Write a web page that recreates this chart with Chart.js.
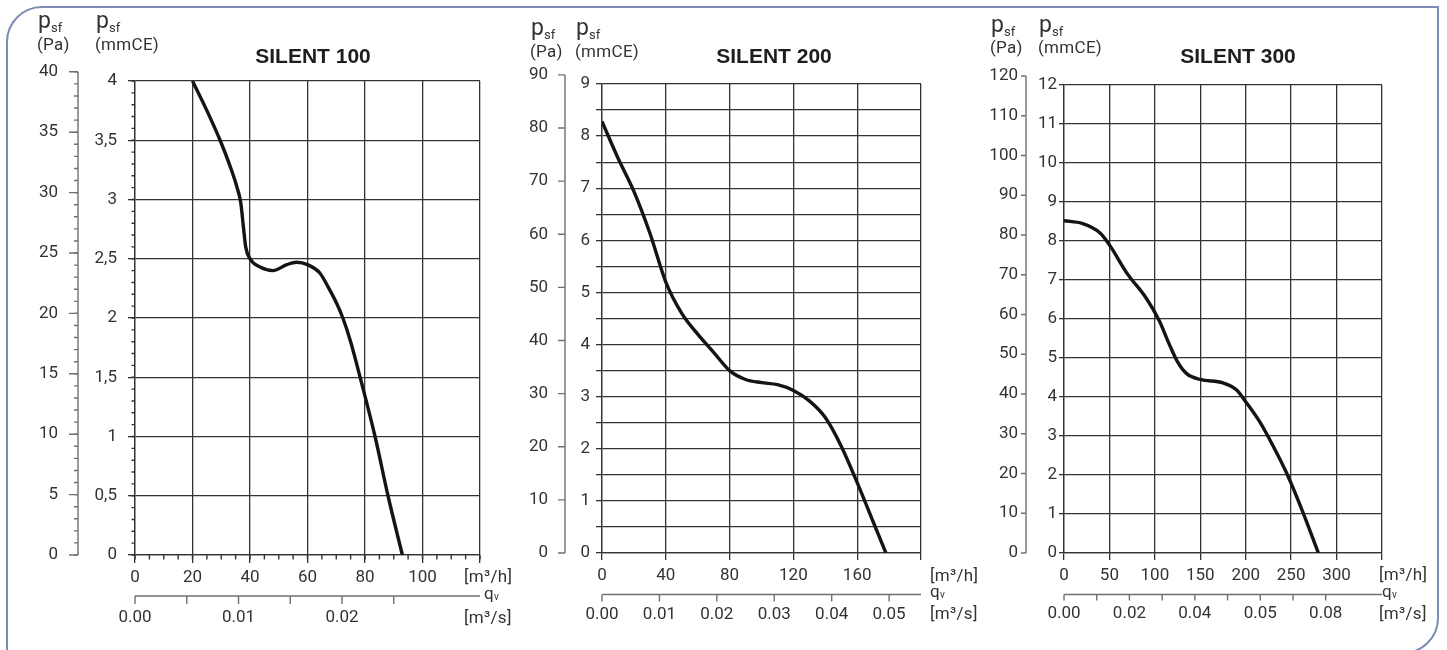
<!DOCTYPE html>
<html>
<head>
<meta charset="utf-8">
<title>SILENT 100 / 200 / 300</title>
<script src="https://cdn.jsdelivr.net/npm/chart.js@4.4.1/dist/chart.umd.min.js"></script>
<style>
  body { margin: 0; width: 1447px; height: 650px; overflow: hidden; background: #fff; position: relative; font-family: Roboto, sans-serif; color: #333; }
  .frame { position: absolute; left: 6px; top: 6px; width: 1433px; height: 648px; box-sizing: border-box; border: 2.5px solid #7d8cb4; border-radius: 36px 0 36px 0; }
  canvas { position: absolute; top: 0; }
  .txt { position: absolute; white-space: nowrap; font-size: 17px; line-height: 17px; letter-spacing: 0.3px; }
  .p { position: absolute; white-space: nowrap; font-size: 23px; line-height: 23px; }
  .p sub { font-size: 13px; vertical-align: -4px; }
  .q sub { font-size: 10px; vertical-align: -1px; }
  .title { position: absolute; width: 200px; text-align: center; font: bold 21px "Liberation Sans", Arial, sans-serif; line-height: 21px; color: #1e1e1e; }
</style>
</head>
<body>
<div class="frame"></div>

<canvas id="silent100" width="520" height="650" style="left:0px"></canvas>
<canvas id="silent200" width="465" height="650" style="left:520px"></canvas>
<canvas id="silent300" width="462" height="650" style="left:985px"></canvas>

<!-- SILENT 100 texts -->
<div class="p" style="left:38px; top:9px">p<sub>sf</sub></div>
<div class="txt" style="left:37px; top:36px">(Pa)</div>
<div class="p" style="left:96px; top:9px">p<sub>sf</sub></div>
<div class="txt" style="left:95px; top:36px">(mmCE)</div>
<div class="title" style="left:213px; top:45px">SILENT 100</div>
<div class="txt" style="left:464px; top:568px">[m³/h]</div>
<div class="txt q" style="left:484px; top:585px">q<sub>v</sub></div>
<div class="txt" style="left:464px; top:609px">[m³/s]</div>

<!-- SILENT 200 texts -->
<div class="p" style="left:531px; top:16px">p<sub>sf</sub></div>
<div class="txt" style="left:530px; top:43px">(Pa)</div>
<div class="p" style="left:576px; top:16px">p<sub>sf</sub></div>
<div class="txt" style="left:575px; top:43px">(mmCE)</div>
<div class="title" style="left:674px; top:45px">SILENT 200</div>
<div class="txt" style="left:930px; top:567px">[m³/h]</div>
<div class="txt q" style="left:930px; top:583px">q<sub>v</sub></div>
<div class="txt" style="left:930px; top:605px">[m³/s]</div>

<!-- SILENT 300 texts -->
<div class="p" style="left:991px; top:13px">p<sub>sf</sub></div>
<div class="txt" style="left:990px; top:39px">(Pa)</div>
<div class="p" style="left:1039px; top:13px">p<sub>sf</sub></div>
<div class="txt" style="left:1038px; top:39px">(mmCE)</div>
<div class="title" style="left:1138px; top:45px">SILENT 300</div>
<div class="txt" style="left:1379px; top:566px">[m³/h]</div>
<div class="txt q" style="left:1382px; top:583px">q<sub>v</sub></div>
<div class="txt" style="left:1379px; top:605px">[m³/s]</div>

<script>
const PA_PER_MMCE = 9.81;
const M3H_PER_M3S = 3600;

// SILENT 100 - flow in m3/h, static pressure in mmCE
const s100Flow = [20, 25, 29.6, 33.1, 35.4, 36.8, 37.7, 38.5, 40, 43.5, 48, 52.8, 56.2, 60, 64.3, 67.2, 70, 72.3, 75, 78.3, 83.5, 88, 93];
const s100Pressure = [4.0, 3.75, 3.5, 3.28, 3.11, 2.97, 2.77, 2.6, 2.5, 2.43, 2.4, 2.45, 2.47, 2.45, 2.38, 2.26, 2.13, 2.0, 1.8, 1.5, 1.0, 0.5, 0];
const s100FlowTicks = [0, 20, 40, 60, 80, 100, 120];
const s100FlowLabels = ["0", "20", "40", "60", "80", "100", ""];
const s100PressureTicks = [0, 0.5, 1, 1.5, 2, 2.5, 3, 3.5, 4];
const s100PressureLabels = ["0", "0,5", "1", "1,5", "2", "2,5", "3", "3,5", "4"];
const s100PaTicks = [0, 5, 10, 15, 20, 25, 30, 35, 40];
const s100AirTicks = [0, 0.005, 0.01, 0.015, 0.02, 0.025];
const s100AirLabels = ["0.00", "", "0.01", "", "0.02", ""];

// SILENT 200
const s200Flow = [0, 10, 20, 30, 40, 50, 60, 70, 80, 90, 100, 110, 120, 130, 140, 150, 160, 170, 178];
const s200Pressure = [8.28, 7.58, 6.94, 6.14, 5.2, 4.6, 4.2, 3.85, 3.5, 3.33, 3.27, 3.23, 3.12, 2.92, 2.6, 2.05, 1.35, 0.6, 0];
const s200FlowTicks = [0, 40, 80, 120, 160, 200];
const s200FlowLabels = ["0", "40", "80", "120", "160", ""];
const s200PressureTicks = [0, 0.5, 1, 1.5, 2, 2.5, 3, 3.5, 4, 4.5, 5, 5.5, 6, 6.5, 7, 7.5, 8, 8.5, 9];
const s200PressureLabels = ["0", "", "1", "", "2", "", "3", "", "4", "", "5", "", "6", "", "7", "", "8", "", "9"];
const s200PaTicks = [0, 10, 20, 30, 40, 50, 60, 70, 80, 90];
const s200AirTicks = [0, 0.01, 0.02, 0.03, 0.04, 0.05];
const s200AirLabels = ["0.00", "0.01", "0.02", "0.03", "0.04", "0.05"];

// SILENT 300
const s300Flow = [0, 20, 40, 50, 70, 90, 105, 115, 125, 135, 150, 175, 190, 200, 215, 230, 245, 262, 280];
const s300Pressure = [8.52, 8.45, 8.2, 7.9, 7.15, 6.55, 5.95, 5.4, 4.9, 4.6, 4.45, 4.36, 4.18, 3.88, 3.38, 2.75, 2.05, 1.1, 0];
const s300FlowTicks = [0, 50, 100, 150, 200, 250, 300, 350];
const s300FlowLabels = ["0", "50", "100", "150", "200", "250", "300", ""];
const s300PressureTicks = [0, 1, 2, 3, 4, 5, 6, 7, 8, 9, 10, 11, 12];
const s300PressureLabels = ["0", "1", "2", "3", "4", "5", "6", "7", "8", "9", "10", "11", "12"];
const s300PaTicks = [0, 10, 20, 30, 40, 50, 60, 70, 80, 90, 100, 110, 120];
const s300AirTicks = [0, 0.01, 0.02, 0.03, 0.04, 0.05, 0.06, 0.07, 0.08];
const s300AirLabels = ["0.00", "", "0.02", "", "0.04", "", "0.05", "", "0.08"];

Chart.defaults.font.family = "Roboto, sans-serif";
Chart.defaults.font.size = 17;
Chart.defaults.color = "#333";

// Pa axis on the left and m3/s axis below, drawn from the chart's own scales
const extraAxes = {
  id: "extraAxes",
  afterDraw(chart, args, o) {
    const { ctx, chartArea } = chart;
    const xs = chart.scales.x;
    const ys = chart.scales.y;
    ctx.save();
    ctx.strokeStyle = "#707070";
    ctx.lineWidth = 1.4;
    ctx.fillStyle = "#333";
    ctx.font = "17px Roboto, sans-serif";
    ctx.textBaseline = "middle";

    // pressure in Pa
    const paY = o.paTicks.map(v => ys.getPixelForValue(v / PA_PER_MMCE));
    ctx.beginPath();
    ctx.moveTo(o.paAxisX, Math.min(...paY));
    ctx.lineTo(o.paAxisX, Math.max(...paY));
    paY.forEach(y => {
      ctx.moveTo(o.paAxisX, y);
      ctx.lineTo(o.paAxisX - o.paTick, y);
    });
    ctx.stroke();
    ctx.textAlign = "right";
    o.paTicks.forEach((v, i) => ctx.fillText(String(v), o.paAxisX - o.paTick - o.paGap, paY[i]));

    // flow in m3/s
    const airX = o.airTicks.map(v => xs.getPixelForValue(v * M3H_PER_M3S));
    ctx.beginPath();
    ctx.moveTo(chartArea.left, o.airAxisY);
    ctx.lineTo(chartArea.right, o.airAxisY);
    airX.forEach(x => {
      ctx.moveTo(x, o.airAxisY);
      ctx.lineTo(x, o.airAxisY + o.airTick);
    });
    ctx.stroke();
    ctx.textAlign = "center";
    o.airLabels.forEach((s, i) => ctx.fillText(s, airX[i], o.airLabelY));

    // small ticks (SILENT 100 only)
    if (o.minor) {
      const m = o.minor;
      const paMax = o.paTicks[o.paTicks.length - 1];
      ctx.beginPath();
      for (let i = 0; i * m.pa <= paMax + 1e-9; i++) {
        const y = ys.getPixelForValue((i * m.pa) / PA_PER_MMCE);
        ctx.moveTo(o.paAxisX, y);
        ctx.lineTo(o.paAxisX - 4, y);
      }
      ctx.stroke();
      ctx.strokeStyle = "#333";
      ctx.beginPath();
      for (let i = 0; i * m.mmce <= ys.max + 1e-9; i++) {
        const y = ys.getPixelForValue(i * m.mmce);
        ctx.moveTo(chartArea.left, y);
        ctx.lineTo(chartArea.left - 3.5, y);
      }
      for (let i = 0; i * m.flow <= xs.max + 1e-9; i++) {
        const x = xs.getPixelForValue(i * m.flow);
        ctx.moveTo(x, chartArea.bottom);
        ctx.lineTo(x, chartArea.bottom + 4.5);
      }
      ctx.stroke();
    }
    ctx.restore();
  }
};

function fanChart(id, flow, pressure, t, look) {
  const plot = look.plot;
  return new Chart(document.getElementById(id), {
    type: "line",
    data: {
      datasets: [
        {
          data: flow.map((x, i) => ({ x: x, y: pressure[i] })),
          borderColor: "#141414",
          borderWidth: 3.4,
          pointRadius: 0,
          cubicInterpolationMode: "monotone",
          fill: false,
        },
      ],
    },
    options: {
      responsive: false,
      animation: false,
      events: [],
      layout: { padding: { top: plot.top, right: look.width - plot.right, bottom: 0, left: 0 } },
      plugins: {
        legend: { display: false },
        tooltip: { enabled: false },
        extraAxes: {
          paTicks: t.paTicks,
          airTicks: t.airTicks,
          airLabels: t.airLabels,
          paAxisX: look.paAxisX,
          paTick: look.paTick,
          paGap: look.paGap,
          airAxisY: look.airAxisY,
          airTick: look.airTick,
          airLabelY: look.airLabelY,
          minor: look.minor,
        },
      },
      scales: {
        x: {
          type: "linear",
          min: t.flowTicks[0],
          max: t.flowTicks[t.flowTicks.length - 1],
          afterBuildTicks: s => { s.ticks = t.flowTicks.map(value => ({ value })); },
          afterFit: s => { s.height = 650 - plot.bottom; },
          ticks: {
            autoSkip: false,
            maxRotation: 0,
            minRotation: 0,
            padding: look.xPad,
            callback: (v, i) => t.flowLabels[i],
          },
          grid: { color: "#333", lineWidth: 1.3, tickLength: look.xTick },
          border: { color: "#333", width: 1.3 },
        },
        y: {
          type: "linear",
          min: t.pressureTicks[0],
          max: t.pressureTicks[t.pressureTicks.length - 1],
          afterBuildTicks: s => { s.ticks = t.pressureTicks.map(value => ({ value })); },
          afterFit: s => { s.width = plot.left; },
          ticks: {
            autoSkip: false,
            padding: look.yPad,
            callback: (v, i) => t.pressureLabels[i],
          },
          grid: { color: "#333", lineWidth: 1.3, tickLength: look.yTick },
          border: { color: "#333", width: 1.3 },
        },
      },
    },
    plugins: [extraAxes],
  });
}

fanChart("silent100", s100Flow, s100Pressure, {
  flowTicks: s100FlowTicks, flowLabels: s100FlowLabels,
  pressureTicks: s100PressureTicks, pressureLabels: s100PressureLabels,
  paTicks: s100PaTicks, airTicks: s100AirTicks, airLabels: s100AirLabels,
}, {
  width: 520, plot: { left: 135, right: 480, top: 81, bottom: 555 },
  yTick: 7, yPad: 11, xTick: 8, xPad: 5,
  paAxisX: 78, paTick: 9, paGap: 11,
  airAxisY: 596, airTick: 8, airLabelY: 617.5,
  minor: { pa: 1, mmce: 0.1, flow: 5 },
});

fanChart("silent200", s200Flow, s200Pressure, {
  flowTicks: s200FlowTicks, flowLabels: s200FlowLabels,
  pressureTicks: s200PressureTicks, pressureLabels: s200PressureLabels,
  paTicks: s200PaTicks, airTicks: s200AirTicks, airLabels: s200AirLabels,
}, {
  width: 465, plot: { left: 82, right: 401, top: 84, bottom: 553 },
  yTick: 6, yPad: 6, xTick: 7, xPad: 6,
  paAxisX: 45, paTick: 7, paGap: 10,
  airAxisY: 594.5, airTick: 7, airLabelY: 614.5,
  minor: null,
});

fanChart("silent300", s300Flow, s300Pressure, {
  flowTicks: s300FlowTicks, flowLabels: s300FlowLabels,
  pressureTicks: s300PressureTicks, pressureLabels: s300PressureLabels,
  paTicks: s300PaTicks, airTicks: s300AirTicks, airLabels: s300AirLabels,
}, {
  width: 462, plot: { left: 79, right: 397, top: 85, bottom: 553 },
  yTick: 5, yPad: 2, xTick: 7, xPad: 6,
  paAxisX: 41, paTick: 5, paGap: 3,
  airAxisY: 594.5, airTick: 6, airLabelY: 614,
  minor: null,
});
</script>
</body>
</html>
